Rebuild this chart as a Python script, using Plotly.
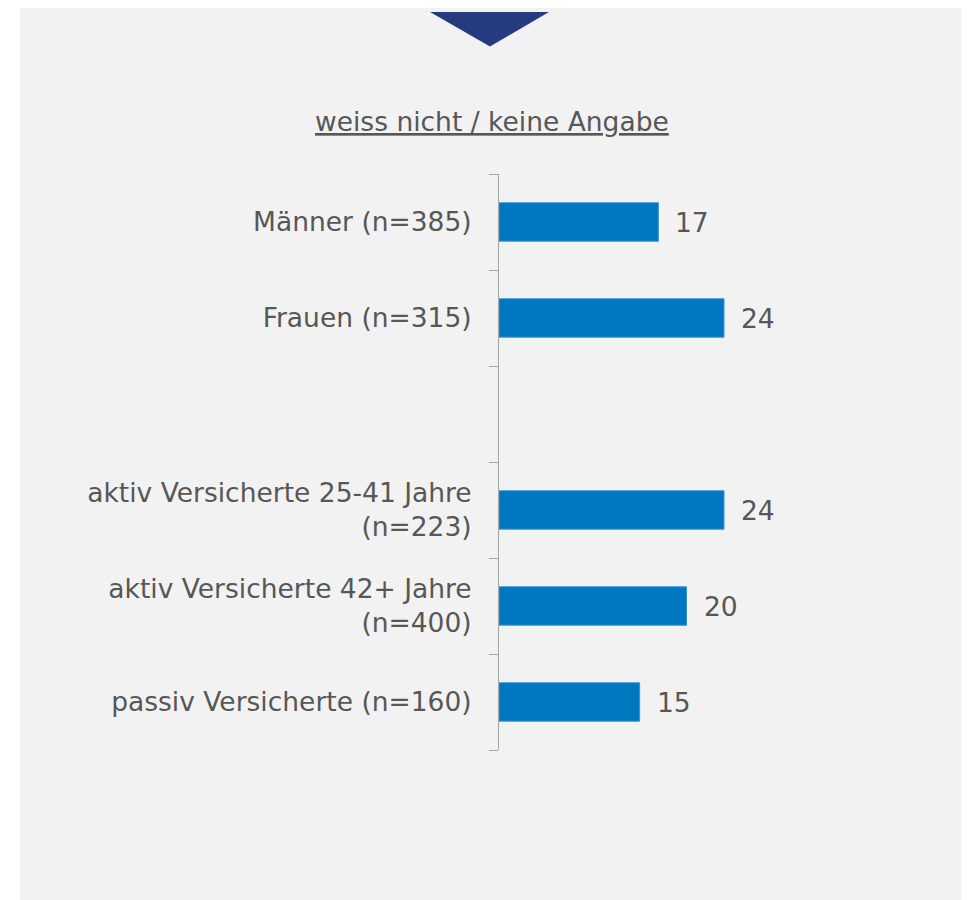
import plotly.graph_objects as go

# ---- data ----
categories = [
    "Männer (n=385)",
    "Frauen (n=315)",
    " ",
    "aktiv Versicherte 25-41 Jahre<br>(n=223)",
    "aktiv Versicherte 42+ Jahre<br>(n=400)",
    "passiv Versicherte (n=160)",
]
values = [17, 24, None, 24, 20, 15]
title_text = "weiss nicht / keine Angabe"

# ---- layout geometry (figure pixels; page body adds 8px offset) ----
W, H = 969, 900
L, R, T, B = 491, 103, 166, 158
pw = W - L - R
ph = H - T - B


def px(x):
    return (x - L) / pw


def py(y):
    return (H - B - y) / ph


TXT = "#575757"
FONT = "DejaVu Sans, Verdana, sans-serif"
FS = 26.5

fig = go.Figure()
fig.add_trace(go.Bar(
    y=categories,
    x=values,
    orientation="h",
    width=0.4,
    marker=dict(color="#0078C1", line=dict(color="#3A92D0", width=1)),
    hoverinfo="skip",
))

annotations = []
for c, v in zip(categories, values):
    if v is None:
        continue
    annotations.append(dict(
        x=v, y=c, xref="x", yref="y",
        text=str(v), showarrow=False,
        xanchor="left", yanchor="middle", xshift=15,
        font=dict(family=FONT, size=FS, color=TXT),
    ))

annotations.append(dict(
    x=px(484), y=py(113), xref="paper", yref="paper",
    text=f'<u>{title_text}</u>',
    showarrow=False, xanchor="center", yanchor="middle",
    font=dict(family=FONT, size=FS, color=TXT),
))

shapes = [
    dict(type="rect", xref="paper", yref="paper",
         x0=px(12), x1=px(958), y0=py(905), y1=py(-1),
         fillcolor="#F2F2F2", line=dict(width=0), layer="below"),
    dict(type="path", xref="paper", yref="paper",
         path=f"M {px(422)} {py(4)} L {px(541)} {py(4)} L {px(482)} {py(38.5)} Z",
         fillcolor="#263A80", line=dict(width=0), layer="above"),
]

fig.update_layout(
    width=W, height=H,
    margin=dict(l=L, r=R, t=T, b=B, pad=0),
    paper_bgcolor="white",
    plot_bgcolor="rgba(0,0,0,0)",
    showlegend=False,
    annotations=annotations,
    shapes=shapes,
    xaxis=dict(range=[0, 40], visible=False, showgrid=False, zeroline=False, fixedrange=True),
    yaxis=dict(
        type="category",
        categoryorder="array",
        categoryarray=categories,
        autorange="reversed",
        tickmode="array",
        tickvals=categories,
        ticktext=[c if c.strip() else "" for c in categories],
        tickfont=dict(family=FONT, size=FS, color=TXT),
        showline=True, linecolor="#A6A6A6", linewidth=1,
        ticks="outside", ticklen=9, tickcolor="#A6A6A6", tickwidth=1,
        tickson="boundaries",
        ticklabelstandoff=21,
        showgrid=False, zeroline=False, fixedrange=True,
    ),
)

fig.write_html("out.html")
